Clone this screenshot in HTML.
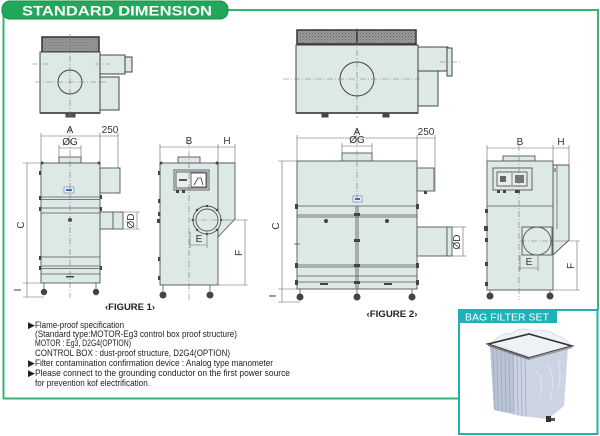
<!DOCTYPE html>
<html><head><meta charset="utf-8"><style>
html,body{margin:0;padding:0;background:#fff;}
svg{display:block;}
text{font-family:"Liberation Sans",sans-serif;}
</style></head><body>
<svg width="600" height="436" viewBox="0 0 600 436" xmlns="http://www.w3.org/2000/svg">
<defs>
<pattern id="hatch" width="3" height="3" patternUnits="userSpaceOnUse">
<rect width="3" height="3" fill="#9a9a9a"/><rect width="1" height="1" fill="#6a6a6a"/><rect x="1.5" y="1.5" width="1" height="1" fill="#707070"/>
</pattern>
</defs>
<!-- frame lines -->
<g stroke="#33b56f" stroke-width="2" fill="none">
<line x1="226" y1="10" x2="598" y2="10"/>
<line x1="598" y1="9" x2="598" y2="310"/>
<line x1="3.5" y1="14" x2="3.5" y2="399"/>
<line x1="3" y1="398.5" x2="459" y2="398.5"/>
</g>
<rect x="2" y="1" width="226" height="18" rx="8" fill="#22a85a" stroke="#1a8f4a" stroke-width="1"/>
<text x="22" y="15.5" font-size="14" font-weight="bold" fill="#fff" textLength="190" lengthAdjust="spacingAndGlyphs">STANDARD DIMENSION</text>

<!-- ============ FIGURE 1 TOP VIEW ============ -->
<g stroke="#444" stroke-width="1">
<rect x="42" y="37" width="57" height="15" fill="url(#hatch)" stroke="#333" stroke-width="1.5"/>
<rect x="40" y="52" width="60" height="61" fill="#dde9e7"/>
<rect x="100" y="55" width="25" height="19" fill="#dde9e7"/>
<rect x="125" y="57" width="7" height="15" fill="#dde9e7"/>
<rect x="100" y="77" width="19" height="33" fill="#dde9e7"/>
<circle cx="70" cy="82" r="12" fill="none"/>
<rect x="66" y="113" width="9" height="4" fill="#555"/>
<line x1="40" y1="113" x2="100" y2="113" stroke-width="1.8"/>
</g>
<g stroke="#777" stroke-width="0.6" stroke-dasharray="6,2,1,2" fill="none">
<line x1="70" y1="34" x2="70" y2="118"/>
<line x1="35" y1="82" x2="106" y2="82"/>
<line x1="32" y1="64" x2="48" y2="64"/>
<line x1="95" y1="64" x2="110" y2="64"/>
</g>

<!-- ============ FIGURE 2 TOP VIEW ============ -->
<g stroke="#444" stroke-width="1">
<rect x="297" y="30" width="60" height="14" fill="url(#hatch)" stroke="#333" stroke-width="1.5"/>
<rect x="357" y="30" width="59" height="14" fill="url(#hatch)" stroke="#333" stroke-width="1.5"/>
<rect x="296" y="45" width="122" height="68" fill="#dde9e7"/>
<rect x="418" y="47" width="30" height="24" fill="#dde9e7"/>
<rect x="447" y="48" width="5" height="28" fill="#dde9e7"/>
<rect x="418" y="71" width="20" height="35" fill="#dde9e7"/>
<circle cx="357" cy="79" r="17" fill="none"/>
<line x1="296" y1="113" x2="418" y2="113" stroke-width="1.8"/>
<rect x="322" y="113" width="6" height="4" fill="#444"/>
<rect x="383" y="113" width="6" height="4" fill="#444"/>
</g>
<g stroke="#777" stroke-width="0.6" stroke-dasharray="6,2,1,2" fill="none">
<line x1="357" y1="28" x2="357" y2="118"/>
<line x1="283" y1="79" x2="420" y2="79"/>
<line x1="440" y1="62" x2="462" y2="62"/>
</g>

<!-- ============ FIGURE 1 FRONT ============ -->
<g stroke="#555" stroke-width="0.9" fill="#dde9e7">
<rect x="59" y="157" width="22" height="6"/>
<rect x="41" y="163" width="59" height="120"/>
<rect x="100" y="168" width="20" height="25"/>
<rect x="100" y="212" width="23" height="17"/>
<line x1="113" y1="212" x2="113" y2="229"/>
</g>
<g stroke="#555" stroke-width="0.8">
<line x1="41" y1="197" x2="100" y2="197"/>
<line x1="41" y1="199.5" x2="100" y2="199.5"/>
<line x1="41" y1="208" x2="100" y2="208"/>
<line x1="41" y1="213" x2="100" y2="213"/>
<line x1="41" y1="257" x2="100" y2="257"/>
<line x1="41" y1="266" x2="100" y2="266"/>
<line x1="41" y1="268.5" x2="100" y2="268.5"/>
<line x1="41" y1="274" x2="100" y2="274"/>
<line x1="44" y1="283" x2="44" y2="289"/>
<line x1="96" y1="283" x2="96" y2="289"/>
</g>
<g fill="#444">
<circle cx="42" cy="163" r="1.5"/><circle cx="99" cy="163" r="1.5"/>
<rect x="39" y="171" width="2" height="4"/><rect x="39" y="196" width="2" height="4"/><rect x="39" y="207" width="2" height="4"/><rect x="39" y="256" width="2" height="4"/><rect x="39" y="266" width="2" height="4"/>
<rect x="100" y="195" width="2" height="4"/><rect x="100" y="207" width="2" height="4"/><rect x="100" y="266" width="2" height="4"/>
<circle cx="70" cy="220" r="2"/>
<rect x="66" y="276" width="8" height="1.5"/>
<circle cx="44" cy="292" r="3.2"/><circle cx="96" cy="292" r="3.2"/>
</g>
<rect x="64" y="187" width="10" height="6" fill="#eef" stroke="#6a7a9a" stroke-width="0.6"/>
<rect x="66" y="189" width="6" height="2" fill="#3a6fc0"/>
<g stroke="#777" stroke-width="0.6" stroke-dasharray="6,2,1,2" fill="none">
<line x1="70" y1="128" x2="70" y2="298"/>
</g>
<!-- dims fig1 front -->
<g stroke="#666" stroke-width="0.6" fill="none">
<line x1="41" y1="136" x2="118" y2="136"/>
<line x1="41" y1="133" x2="41" y2="163"/>
<line x1="100" y1="133" x2="100" y2="168"/>
<line x1="118" y1="133" x2="118" y2="168"/>
<line x1="59" y1="148" x2="81" y2="148"/>
<line x1="59" y1="145" x2="59" y2="157"/>
<line x1="81" y1="145" x2="81" y2="157"/>
<line x1="27" y1="163" x2="27" y2="297"/>
<line x1="23" y1="163" x2="41" y2="163"/>
<line x1="23" y1="283" x2="41" y2="283"/>
<line x1="23" y1="297" x2="44" y2="297"/>
<line x1="137" y1="212" x2="137" y2="229"/>
<line x1="123" y1="212" x2="140" y2="212"/>
<line x1="123" y1="229" x2="140" y2="229"/>
</g>
<g fill="#333" font-size="10" text-anchor="middle">
<text x="70" y="133">A</text>
<text x="110" y="133">250</text>
<text x="70" y="145">ØG</text>
<text transform="translate(24,225) rotate(-90)">C</text>
<text transform="translate(21,290) rotate(-90)">I</text>
<text transform="translate(134,221) rotate(-90)">ØD</text>
</g>

<!-- ============ FIGURE 1 SIDE ============ -->
<g stroke="#555" stroke-width="0.9" fill="#dde9e7">
<rect x="178" y="157" width="22" height="6"/>
<polygon points="218,163 235,163 235,219 218,237"/>
<rect x="160" y="163" width="58" height="122"/>
<rect x="174" y="170" width="35" height="20"/>
<rect x="176" y="172" width="31" height="16" fill="#e9eeee"/>
<rect x="191" y="173" width="15" height="14" fill="#fff"/>
<circle cx="207" cy="220" r="14" fill="#dde9e7"/>
<circle cx="207" cy="220" r="11" fill="#dde9e7"/>
</g>
<polyline points="194,185 198,178 201,178 203,185" fill="none" stroke="#333" stroke-width="0.8"/>
<rect x="179" y="179" width="8" height="2" fill="#555"/>
<g fill="#444">
<rect x="158" y="171" width="2.5" height="4"/><rect x="158" y="199" width="2.5" height="4"/><rect x="158" y="212" width="2.5" height="4"/><rect x="157" y="219" width="3" height="4"/><rect x="158" y="257" width="2.5" height="4"/><rect x="158" y="276" width="2.5" height="4"/>
<rect x="176" y="190" width="3" height="3"/><rect x="182" y="190" width="3" height="3"/>
<circle cx="207" cy="206" r="1.2"/><circle cx="207" cy="234" r="1.2"/><circle cx="193" cy="220" r="1.2"/><circle cx="221" cy="220" r="1.2"/>
<circle cx="197" cy="210" r="1.2"/><circle cx="217" cy="210" r="1.2"/><circle cx="197" cy="230" r="1.2"/><circle cx="217" cy="230" r="1.2"/>
<circle cx="163" cy="295" r="3.5"/><circle cx="210" cy="295" r="3.5"/>
<circle cx="161" cy="163" r="1.5"/><circle cx="217" cy="163" r="1.5"/>
</g>
<g stroke="#555" stroke-width="0.8"><line x1="163" y1="285" x2="163" y2="291"/><line x1="210" y1="285" x2="210" y2="291"/></g>
<g stroke="#777" stroke-width="0.6" stroke-dasharray="6,2,1,2" fill="none">
<line x1="189" y1="140" x2="189" y2="300"/>
<line x1="190" y1="220" x2="224" y2="220"/>
</g>
<g stroke="#666" stroke-width="0.6" fill="none">
<line x1="160" y1="147" x2="235" y2="147"/>
<line x1="160" y1="144" x2="160" y2="163"/>
<line x1="218" y1="144" x2="218" y2="163"/>
<line x1="235" y1="144" x2="235" y2="163"/>
<line x1="190" y1="245" x2="207" y2="245"/>
<line x1="190" y1="232" x2="190" y2="248"/>
<line x1="207" y1="234" x2="207" y2="248"/>
<line x1="245" y1="220" x2="245" y2="285"/>
<line x1="221" y1="220" x2="248" y2="220"/>
<line x1="218" y1="285" x2="248" y2="285"/>
</g>
<g fill="#333" font-size="10" text-anchor="middle">
<text x="189" y="144">B</text>
<text x="227" y="144">H</text>
<text x="199" y="242">E</text>
<text transform="translate(242,253) rotate(-90)">F</text>
</g>
<text x="130" y="310" font-size="9.5" font-weight="bold" fill="#222" text-anchor="middle" textLength="50" lengthAdjust="spacingAndGlyphs">‹FIGURE 1›</text>

<!-- ============ FIGURE 2 FRONT ============ -->
<g stroke="#555" stroke-width="0.9" fill="#dde9e7">
<rect x="342" y="153" width="30" height="8"/>
<rect x="297" y="161" width="120" height="128"/>
<rect x="417" y="168" width="17" height="23"/>
<rect x="417" y="227" width="30" height="29"/>
<rect x="447" y="227" width="5" height="29"/>
</g>
<g stroke="#555" stroke-width="0.8">
<line x1="295" y1="206" x2="419" y2="206"/>
<line x1="297" y1="215" x2="417" y2="215"/>
<line x1="297" y1="217" x2="417" y2="217"/>
<line x1="297" y1="265" x2="417" y2="265"/>
<line x1="297" y1="267" x2="417" y2="267"/>
<line x1="297" y1="276" x2="417" y2="276"/>
<line x1="297" y1="282" x2="417" y2="282"/>
<line x1="356" y1="206" x2="356" y2="289"/>
<line x1="358" y1="206" x2="358" y2="289"/>
<line x1="300" y1="289" x2="300" y2="294"/>
<line x1="357" y1="289" x2="357" y2="294"/>
<line x1="412" y1="289" x2="412" y2="294"/>
<line x1="294" y1="244" x2="300" y2="244"/>
<line x1="297" y1="244" x2="297" y2="250"/>
</g>
<g fill="#444">
<rect x="354" y="213" width="6" height="3"/><rect x="354" y="239" width="6" height="3"/><rect x="354" y="264" width="6" height="3"/><rect x="354" y="281" width="6" height="3"/>
<rect x="295" y="204" width="3" height="5"/><rect x="416" y="204" width="3" height="5"/>
<rect x="295" y="263" width="3" height="5"/><rect x="416" y="263" width="3" height="5"/>
<rect x="295" y="280" width="3" height="5"/><rect x="416" y="280" width="3" height="5"/>
<circle cx="326" cy="221" r="2"/><circle cx="387" cy="221" r="2"/>
<rect x="320" y="283" width="8" height="2"/><rect x="384" y="283" width="8" height="2"/>
<circle cx="300" cy="297" r="3.5"/><circle cx="357" cy="297" r="3.5"/><circle cx="412" cy="297" r="3.5"/>
<rect x="424" y="191" width="3" height="3"/>
</g>
<rect x="353" y="196" width="9" height="6" fill="#eef" stroke="#6a7a9a" stroke-width="0.6"/>
<rect x="355" y="198" width="5" height="2" fill="#3a6fc0"/>
<g stroke="#777" stroke-width="0.6" stroke-dasharray="6,2,1,2" fill="none">
<line x1="357" y1="128" x2="357" y2="205"/>
</g>
<g stroke="#666" stroke-width="0.6" fill="none">
<line x1="297" y1="138" x2="435" y2="138"/>
<line x1="297" y1="135" x2="297" y2="161"/>
<line x1="417" y1="135" x2="417" y2="168"/>
<line x1="435" y1="135" x2="435" y2="192"/>
<line x1="342" y1="146" x2="372" y2="146"/>
<line x1="342" y1="143" x2="342" y2="153"/>
<line x1="372" y1="143" x2="372" y2="153"/>
<line x1="282" y1="161" x2="282" y2="302"/>
<line x1="278" y1="161" x2="297" y2="161"/>
<line x1="278" y1="289" x2="297" y2="289"/>
<line x1="278" y1="302" x2="300" y2="302"/>
<line x1="463" y1="227" x2="463" y2="256"/>
<line x1="452" y1="227" x2="466" y2="227"/>
<line x1="452" y1="256" x2="466" y2="256"/>
</g>
<g fill="#333" font-size="10" text-anchor="middle">
<text x="357" y="135">A</text>
<text x="426" y="135">250</text>
<text x="357" y="143">ØG</text>
<text transform="translate(279,226) rotate(-90)">C</text>
<text transform="translate(276,296) rotate(-90)">I</text>
<text transform="translate(460,242) rotate(-90)">ØD</text>
</g>

<!-- ============ FIGURE 2 SIDE ============ -->
<g stroke="#555" stroke-width="0.9" fill="#dde9e7">
<rect x="503" y="156" width="32" height="5"/>
<polygon points="553,165 569,165 569,240 553,255"/>
<rect x="487" y="161" width="66" height="129"/>
<rect x="493" y="168" width="39" height="22"/>
<rect x="497" y="172" width="30" height="14" fill="#e6ecec"/>
<rect x="522" y="227" width="30" height="28"/>
<circle cx="537" cy="241" r="14"/>
</g>
<g stroke="#555" stroke-width="0.7">
<line x1="557" y1="165" x2="557" y2="229"/>
<line x1="487" y1="206" x2="553" y2="206"/>
<line x1="512" y1="173" x2="512" y2="185"/>
<line x1="490" y1="290" x2="490" y2="294"/>
<line x1="550" y1="290" x2="550" y2="294"/>
</g>
<g fill="#444">
<rect x="500" y="176" width="6" height="6" fill="#666"/><rect x="515" y="175" width="9" height="8" fill="#777"/>
<rect x="497" y="190" width="3" height="3"/><rect x="503" y="190" width="3" height="3"/><rect x="515" y="190" width="5" height="3"/>
<rect x="485" y="209" width="3" height="4"/><rect x="484" y="226" width="4" height="5"/><rect x="485" y="238" width="3" height="4"/><rect x="485" y="262" width="3" height="4"/><rect x="485" y="282" width="3" height="4"/>
<rect x="553" y="168" width="3" height="4" fill="#999"/>
<circle cx="490" cy="296" r="3.5"/><circle cx="550" cy="296" r="3.5"/>
</g>
<g stroke="#777" stroke-width="0.6" stroke-dasharray="6,2,1,2" fill="none">
<line x1="519" y1="145" x2="519" y2="300"/>
<line x1="520" y1="241" x2="556" y2="241"/>
</g>
<g stroke="#666" stroke-width="0.6" fill="none">
<line x1="487" y1="148" x2="569" y2="148"/>
<line x1="487" y1="145" x2="487" y2="161"/>
<line x1="553" y1="145" x2="553" y2="161"/>
<line x1="569" y1="145" x2="569" y2="165"/>
<line x1="520" y1="268" x2="538" y2="268"/>
<line x1="520" y1="255" x2="520" y2="271"/>
<line x1="538" y1="255" x2="538" y2="271"/>
<line x1="577" y1="241" x2="577" y2="290"/>
<line x1="556" y1="241" x2="580" y2="241"/>
<line x1="553" y1="290" x2="580" y2="290"/>
</g>
<g fill="#333" font-size="10" text-anchor="middle">
<text x="520" y="145">B</text>
<text x="561" y="145">H</text>
<text x="529" y="265">E</text>
<text transform="translate(574,266) rotate(-90)">F</text>
</g>
<text x="392" y="317" font-size="9.5" font-weight="bold" fill="#222" text-anchor="middle" textLength="51" lengthAdjust="spacingAndGlyphs">‹FIGURE 2›</text>

<!-- ============ NOTES ============ -->
<g fill="#222" font-size="9">
<text x="28" y="328">▶</text>
<text x="35" y="328" textLength="89" lengthAdjust="spacingAndGlyphs">Flame-proof specification</text>
<text x="35" y="337" textLength="202" lengthAdjust="spacingAndGlyphs">(Standard type:MOTOR-Eg3 control box proof structure)</text>
<text x="35" y="346" textLength="96" lengthAdjust="spacingAndGlyphs">MOTOR : Eg3, D2G4(OPTION)</text>
<text x="35" y="356" textLength="195" lengthAdjust="spacingAndGlyphs">CONTROL BOX : dust-proof structure, D2G4(OPTION)</text>
<text x="28" y="366">▶</text>
<text x="35" y="366" textLength="238" lengthAdjust="spacingAndGlyphs">Filter contamination confirmation device : Analog type manometer</text>
<text x="28" y="376">▶</text>
<text x="35" y="376" textLength="255" lengthAdjust="spacingAndGlyphs">Please connect to the grounding conductor on the first power source</text>
<text x="35" y="386" textLength="115" lengthAdjust="spacingAndGlyphs">for prevention kof electrification.</text>
</g>

<!-- ============ BAG FILTER SET ============ -->
<rect x="459" y="310" width="138.5" height="124" fill="#fff" stroke="#1fb1b6" stroke-width="2"/>
<rect x="458" y="309" width="99" height="14" fill="#1fb1b6"/>
<text x="465" y="320.5" font-size="10.5" fill="#fff" textLength="84" lengthAdjust="spacingAndGlyphs">BAG FILTER SET</text>
<!-- bag -->
<polygon points="490,346 529,358 568,347 564,406 548,419 520,416 494,410" fill="#ccd4e3"/>
<polygon points="490,346 514,353 514,413 494,410" fill="#b9c3d6"/>
<g stroke="#a0abc2" stroke-width="0.8">
<line x1="493" y1="348" x2="495" y2="410"/>
<line x1="497" y1="349" x2="498" y2="411"/>
<line x1="501" y1="350" x2="502" y2="412"/>
<line x1="505" y1="351" x2="506" y2="412"/>
<line x1="509" y1="352" x2="510" y2="413"/>
<line x1="513" y1="353" x2="514" y2="414"/>
<line x1="517" y1="354" x2="518" y2="415"/>
<line x1="521" y1="356" x2="522" y2="416"/>
<line x1="525" y1="357" x2="526" y2="416"/>
</g>
<g stroke="#dfe5ef" stroke-width="1" fill="none">
<path d="M535,370 q10,10 5,25"/><path d="M548,365 q8,15 2,35"/><path d="M558,360 q4,12 0,30"/>
</g>
<!-- cloth top -->
<path d="M492,343 Q500,333 512,333 Q522,326 532,331 Q545,328 556,335 Q566,338 571,346 L529,357 Z" fill="#eef1f6" stroke="#c9cfdb" stroke-width="0.6"/>
<!-- frame -->
<polygon points="488,344 529,334 572,346 529,358" fill="none" stroke="#333" stroke-width="1.6"/>
<polygon points="488,344 529,358 529,360 488,346" fill="#777"/>
<polygon points="529,358 572,346 572,348 529,360" fill="#999"/>
<!-- valve -->
<rect x="546" y="416" width="5" height="6" fill="#333"/>
<rect x="551" y="418" width="4" height="3" fill="#555"/>
</svg>
</body></html>
